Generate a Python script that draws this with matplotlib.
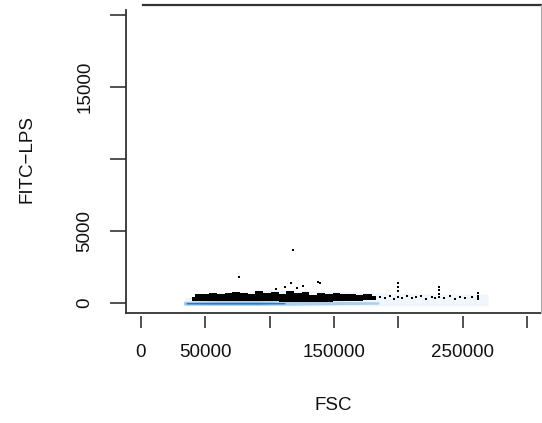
import matplotlib.pyplot as plt
import numpy as np

plt.rcParams['font.family'] = ['Liberation Sans', 'DejaVu Sans']

# light blue density underneath the points (smoothScatter look)
haze_x = [34000, 60000, 100000, 140000, 180000, 220000, 270000]
haze_top = [350, 700, 900, 850, 700, 650, 600]
dens_x = [33000, 60000, 90000, 120000, 150000, 185000]
dens_top = [120, 160, 160, 150, 120, 80]
dens_bot = [-150, -160, -160, -150, -120, -80]
core_x = [35000, 60000, 90000, 112000]
core_top = [40, 50, 50, 30]
core_bot = [-70, -80, -80, -60]

# dense black band of events
band_x = [40000, 44000, 50000, 56000, 62000, 68000, 74000, 80000, 86000, 92000,
          98000, 104000, 110000, 116000, 122000, 128000, 134000, 140000, 146000,
          152000, 158000, 164000, 170000, 176000, 183000]
band_top = [450, 650, 600, 720, 620, 700, 780, 720, 650, 800, 700, 760, 620,
            800, 680, 740, 580, 700, 620, 680, 600, 650, 540, 600, 480]
band_bot = [170, 140, 140, 150, 140, 130, 140, 150, 140, 130, 130, 120, 100,
            70, 60, 60, 70, 80, 100, 120, 130, 140, 170, 200, 240]

# sparse events on the right and scattered outliers
sparse_x = [186000, 190000, 194000, 197000, 200000, 203000, 207000, 211000,
            214000, 218000, 222000, 226000, 229000, 232000, 236000, 240000,
            244000, 248000, 252000, 257000, 262000]
sparse_y = [450, 380, 520, 300, 420, 350, 480, 330, 400, 500, 300, 450, 380,
            420, 350, 480, 300, 420, 380, 450, 500]
out_x = [118400, 76400, 116400, 139200, 112000, 121000, 137600, 200100, 200100,
         200100, 232000, 232000, 232000, 262300, 262300, 262300, 105000, 126000]
out_y = [3680, 1830, 1370, 1370, 1090, 1020, 1480, 1370, 1100, 850, 1140, 900,
         650, 670, 450, 250, 950, 1150]

xticks = [0, 50000, 100000, 150000, 200000, 250000, 300000]
xlabels = ['0', '50000', '', '150000', '', '250000', '']
yticks = [0, 5000, 10000, 15000, 20000]
ylabels = ['0', '5000', '', '15000', '']

fig = plt.figure(figsize=(5.42, 4.23), dpi=100)
ax = fig.add_axes([126/542, 110/423, 415/542, 308/423])

ax.fill_between(haze_x, -200, haze_top, color='#f1f6fc', lw=0)
ax.fill_between(dens_x, dens_bot, dens_top, color='#a8cfee', lw=0)
ax.fill_between(core_x, core_bot, core_top, color='#2f78bd', lw=0)
ax.fill_between(band_x, band_bot, band_top, color='black', lw=0, step='mid')
ax.scatter(sparse_x, sparse_y, s=3, marker='s', color='black', lw=0)
ax.scatter(out_x, out_y, s=3, marker='s', color='black', lw=0)

ax.set_xlim(-11664, 311040)
ax.set_ylim(-694, 20681)

for s in ['top', 'left', 'bottom', 'right']:
    ax.spines[s].set_visible(False)
ax.spines['bottom'].set_position(('outward', 2))

# box lines (partly cut at the top-left in the reference)
ax.plot([0, 1], [0, 0], transform=ax.transAxes, color='#333333', lw=1.3, clip_on=False)
ax.plot([0, 0], [0, 0.984], transform=ax.transAxes, color='#333333', lw=1.3, clip_on=False)
ax.plot([0.041, 1], [1, 1], transform=ax.transAxes, color='#333333', lw=1.6, clip_on=False)
ax.plot([0.999, 0.999], [0, 1], transform=ax.transAxes, color='#aaaaaa', lw=0.8, clip_on=False)

ax.set_xticks(xticks)
ax.set_xticklabels(xlabels)
ax.set_yticks(yticks)
ax.set_yticklabels(ylabels, rotation=90, va='center')
ax.tick_params(axis='x', length=8.6, width=1.2, color='#333333', pad=12, labelsize=13.5, labelcolor='#111111')
ax.tick_params(axis='y', length=11.5, width=1.2, color='#333333', pad=12, labelsize=13.5, labelcolor='#111111')

fig.text(333/542, 1 - 405/423, 'FSC', ha='center', va='center', fontsize=13.5, color='#111111')
fig.text(27/542, 1 - 159/423, 'FITC\u2212LPS', ha='center', va='center', rotation=90,
         fontsize=13.5, color='#111111')

fig.savefig('out.png', dpi=100)
